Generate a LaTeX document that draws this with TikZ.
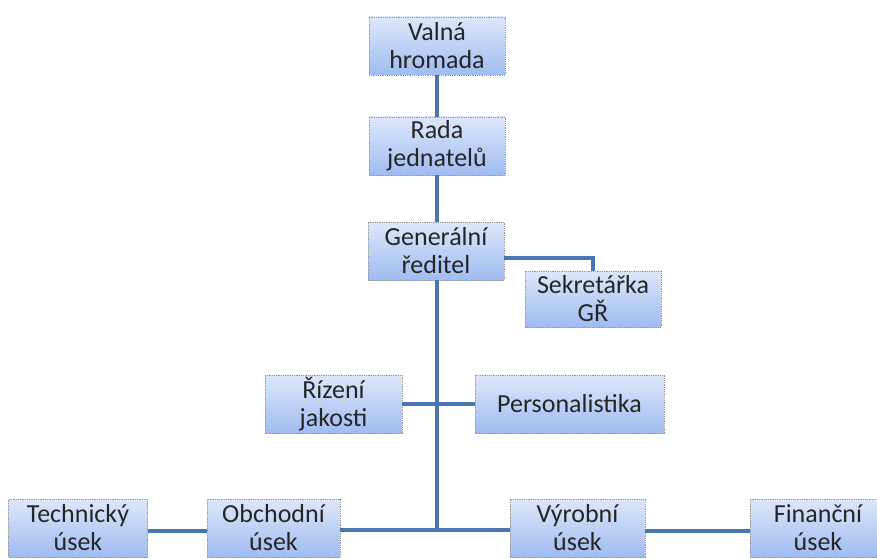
\documentclass[tikz,border=0pt]{standalone}
\usepackage{fontspec}
\setmainfont{Carlito}
\definecolor{boxtop}{HTML}{DDE7FA}
\definecolor{boxbot}{HTML}{9FBBF0}
\definecolor{linkblue}{HTML}{4A76AC}
\begin{document}
\begin{tikzpicture}[x=1pt,y=1pt,
  orgbox/.style={draw=gray!80, densely dotted, line width=0.8pt, top color=boxtop, bottom color=boxbot,
    minimum height=58pt, inner sep=1pt, align=center, font=\fontsize{26}{28}\selectfont, text=black!85},
  link/.style={draw=linkblue, line width=3.5pt}]
\useasboundingbox (0,0) rectangle (877,558);
\fill[white] (0,0) rectangle (877,558);
\coordinate (bus) at (437,28);
\coordinate (sekc) at (593,300);
\node[orgbox, minimum width=136pt] (valna) at (437,512) {Valná\\hromada};
\node[orgbox, minimum width=136pt] (rada) at (437,412) {Rada\\jednatelů};
\node[orgbox, minimum width=136pt] (gr) at (436,307) {Generální\\ředitel};
\node[orgbox, minimum width=136pt, minimum height=56pt] (sek) at (593,259) {Sekretářka\\GŘ};
\node[orgbox, minimum width=137pt] (riz) at (333.5,154) {Řízení\\jakosti};
\node[orgbox, minimum width=189pt] (pers) at (569.5,154) {Personalistika};
\node[orgbox, minimum width=139pt] (tech) at (78,30) {Technický\\úsek};
\node[orgbox, minimum width=133pt] (obch) at (273.5,30) {Obchodní\\úsek};
\node[orgbox, minimum width=135pt] (vyr) at (577.5,30) {Výrobní\\úsek};
\node[orgbox, minimum width=136pt] (fin) at (818,30) {Finanční\\úsek};
\draw[link] (valna.south -| 437,0) -- (rada.north -| 437,0);
\draw[link] (rada.south -| 437,0) -- (gr.north -| 437,0);
\draw[link] (gr.south -| 437,0) -- (bus);
\draw[link] (gr.east |- sekc) -- (sekc) -- (sek.north);
\draw[link] (riz.east) -- (pers.west);
\draw[link] (obch.east |- bus) -- (vyr.west |- bus);
\draw[link] (tech.east |- 0,27) -- (obch.west |- 0,27);
\draw[link] (vyr.east |- 0,27) -- (fin.west |- 0,27);
\end{tikzpicture}
\end{document}
